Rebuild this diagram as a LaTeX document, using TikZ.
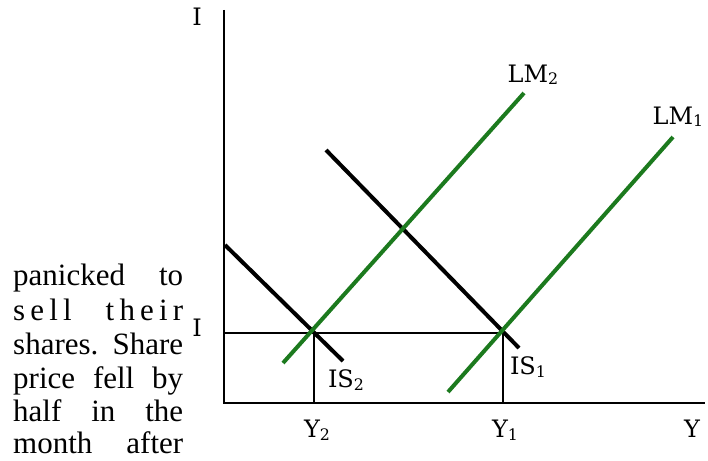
\documentclass[tikz,border=0pt]{standalone}
\usepackage{fontspec}
\setmainfont{Liberation Serif}
\newfontfamily\labfont{DejaVu Serif}
\definecolor{lmgreen}{RGB}{28,122,30}
\newcommand\lowidx[1]{\raisebox{-.2ex}{\scalebox{.66}{#1}}}

\tikzset{
  lab/.style={font=\labfont\fontsize{24}{27}\selectfont, inner sep=0pt},
  para/.style={font=\fontsize{31}{34}\selectfont, inner sep=0pt, anchor=base west}
}

\begin{document}
\begin{tikzpicture}[x=1pt,y=-1pt]
\useasboundingbox (0,0) rectangle (708,460);
% axes and guide lines
\draw[line width=2.4] (224,10)--(224,403)--(705,403);
\draw[line width=2] (224,333)--(503,333);
\draw[line width=2] (314,333)--(314,403);
\draw[line width=2] (503,333)--(503,403);
% IS curves
\draw[line width=4] (225,245)--(343,361);
\draw[line width=4] (326,150)--(519,348);
% LM curves
\draw[lmgreen,line width=4] (283,363)--(524,93);
\draw[lmgreen,line width=4] (448,392)--(673,137);
% labels
\node[lab] (rtop) at (197,17) {I};
\node[lab] (rmid) at (197,328) {I};
\node[lab] (lmtwo) at (533,75) {LM\lowidx{2}};
\node[lab] (lmone) at (678,117) {LM\lowidx{1}};
\node[lab] (istwo) at (346,380) {IS\lowidx{2}};
\node[lab] (isone) at (528,367) {IS\lowidx{1}};
\node[lab] (ytwo) at (317,430) {Y\lowidx{2}};
\node[lab] (yone) at (505,430) {Y\lowidx{1}};
\node[lab] (yax) at (692,429) {Y};
% text beside the graph
\foreach \yy/\words [count=\i] in {285/panicked to, 320/s\,e\,l\,l\hfill t\,h\,e\,i\,r, 354/shares. Share, 388/price fell by, 421/half in the, 453/month after}
  \node[para] (line\i) at (13,\yy) {\makebox[170pt][s]{\words}};
\end{tikzpicture}
\end{document}
